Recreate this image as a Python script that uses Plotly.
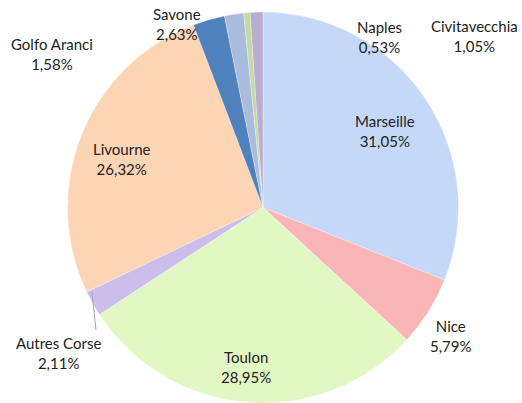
import plotly.graph_objects as go

W, H = 522, 403

ports = ["Marseille", "Nice", "Toulon", "Autres Corse", "Livourne",
         "Savone", "Golfo Aranci", "Naples", "Civitavecchia"]
shares = [31.05, 5.79, 28.95, 2.11, 26.32, 2.63, 1.58, 0.53, 1.05]
colors = ["#c5d8fa", "#fab6b6", "#e2f8c4", "#cbbdec", "#fcd5b5",
          "#4f81bd", "#a9bcdc", "#c4d9a6", "#b9aed0"]

# label centres in pixels (layout only)
label_px = {
    "Marseille": (385, 131),
    "Nice": (451, 336),
    "Toulon": (246, 367),
    "Autres Corse": (58, 353),
    "Livourne": (122, 159),
    "Savone": (177, 24),
    "Golfo Aranci": (52, 54),
    "Naples": (379, 37),
    "Civitavecchia": (474, 36),
}

def fmt(v):
    return f"{v:.2f}".replace(".", ",") + "%"

fig = go.Figure(go.Pie(
    labels=ports,
    values=shares,
    sort=False,
    direction="clockwise",
    rotation=0,
    marker=dict(colors=colors, line=dict(color="rgba(255,255,255,0.6)", width=0.5)),
    textinfo="none",
    hoverinfo="label+percent",
    showlegend=False,
    domain=dict(x=[67 / W, 459 / W], y=[0, 0.97]),
))

annotations = []
for p, v in zip(ports, shares):
    x, y = label_px[p]
    annotations.append(dict(
        x=x / W, y=1 - y / H, xref="paper", yref="paper",
        text=f"{p}<br>{fmt(v)}", showarrow=False,
        xanchor="center", yanchor="middle",
        font=dict(family="Lato, Carlito, sans-serif", size=15, color="#222222"),
    ))

fig.update_layout(
    width=W, height=H,
    margin=dict(l=0, r=0, t=0, b=0),
    paper_bgcolor="white",
    plot_bgcolor="white",
    annotations=annotations,
    shapes=[dict(type="line", xref="paper", yref="paper",
                 x0=92 / W, y0=1 - 292 / H, x1=96 / W, y1=1 - 330 / H,
                 line=dict(color="#a6a6a6", width=1))],
)

fig.write_html("out.html",
               config={"displayModeBar": False},
               post_script="document.body.style.margin='0px';document.body.style.overflow='hidden';")
